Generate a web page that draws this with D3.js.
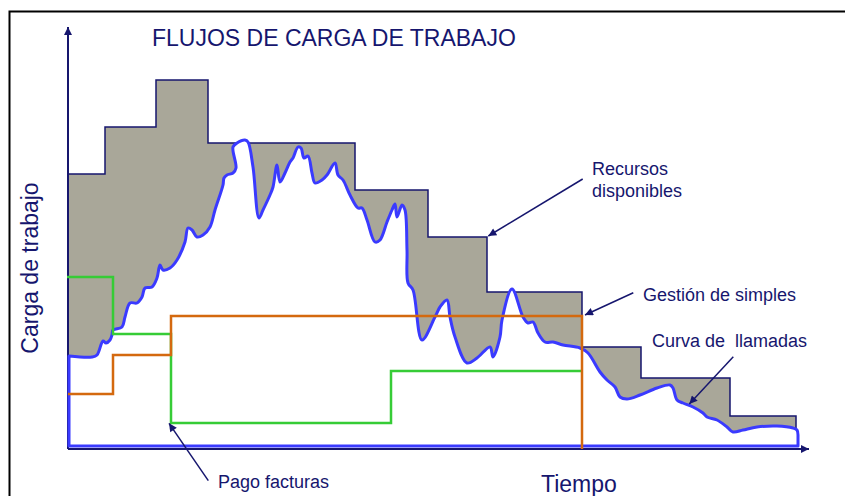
<!DOCTYPE html>
<html>
<head>
<meta charset="utf-8">
<script src="https://cdn.jsdelivr.net/npm/d3@7"></script>
<style>
  body { margin: 0; background: #fff; }
  svg text { font-family: Arial, "Liberation Sans", sans-serif; fill: #16166e; white-space: pre; }
</style>
</head>
<body>
<svg id="chart" width="845" height="496"></svg>
<script>
// Recursos disponibles (step levels, start time of each step)
const stepTime = [0, 37, 88, 140, 287, 360, 419, 514, 573, 662, 728];
const stepLoad = [275, 322, 369, 306, 259, 212, 157, 102, 71, 33, 20];

// Curva de llamadas
const callTime = [1, 24, 29, 35, 38, 42, 44, 45, 54, 57, 62, 69, 74, 77, 84, 89, 92, 95, 102, 109, 117, 120, 124, 129, 135, 142, 147, 155, 156, 159, 165, 168, 165, 169, 177, 180, 185, 191, 195, 202, 205, 209, 212, 217, 222, 225, 230, 233, 236, 240, 244, 247, 254, 259, 267, 270, 275, 282, 290, 294, 299, 307, 312, 319, 324, 327, 329, 334, 337, 339, 340, 345, 354, 367, 372, 379, 382, 387, 399, 409, 422, 425, 432, 434, 444, 455, 460, 465, 470, 477, 485, 495, 512, 520, 532, 539, 547, 552, 559, 572, 589, 602, 605, 609, 615, 625, 635, 639, 649, 659, 665, 675, 689, 709, 725, 729, 730];
const callLoad = [93, 92, 94, 108, 106, 109, 114, 119, 122, 132, 146, 146, 152, 161, 162, 171, 184, 179, 181, 189, 207, 221, 219, 212, 214, 222, 239, 264, 271, 274, 276, 281, 302, 306, 309, 307, 282, 231, 239, 254, 262, 284, 267, 276, 287, 291, 302, 301, 291, 293, 276, 266, 269, 274, 286, 274, 269, 254, 241, 241, 229, 207, 209, 227, 239, 245, 232, 244, 239, 199, 166, 159, 109, 132, 142, 149, 132, 112, 86, 91, 102, 92, 112, 129, 160, 132, 126, 127, 116, 107, 107, 104, 101, 96, 77, 69, 62, 52, 50, 54, 61, 64, 61, 49, 46, 42, 36, 32, 29, 22, 17, 19, 22, 23, 21, 19, 14];
const callBase = 3;

// Gestión de simples
const gestionTime = [0, 45, 103, 514];
const gestionLoad = [55, 94, 133, 0];

// Pago facturas
const pagoTime = [-1, 45, 103, 323, 514];
const pagoLoad = [172, 115, 26, 78, 78];

const navy = "#16166e";
const svg = d3.select("#chart");

const x = d3.scaleLinear().domain([0, 740]).range([68, 808]);
const y = d3.scaleLinear().domain([0, 420]).range([449, 29]);

// outer frame
svg.append("rect")
  .attr("x", 9.5).attr("y", 11.5)
  .attr("width", 850).attr("height", 520)
  .attr("fill", "none").attr("stroke", "#000").attr("stroke-width", 2);

const defs = svg.append("defs");
defs.append("marker")
  .attr("id", "arrow")
  .attr("viewBox", "0 0 10 10")
  .attr("refX", 10).attr("refY", 5)
  .attr("markerWidth", 10).attr("markerHeight", 8)
  .attr("markerUnits", "userSpaceOnUse")
  .attr("orient", "auto")
  .append("path").attr("d", "M0,0L10,5L0,10Z").attr("fill", navy);

const zip = (ts, vs) => ts.map((t, i) => [t, vs[i]]);

// gray area under resources
const steps = zip(stepTime, stepLoad);
svg.append("path")
  .datum(steps)
  .attr("d", d3.area().curve(d3.curveStepAfter)
    .x((d) => x(d[0])).y0(y(callBase)).y1((d) => y(d[1])))
  .attr("fill", "#a9a799");

svg.append("path")
  .datum(steps)
  .attr("d", d3.line().curve(d3.curveStepAfter)
    .x((d) => x(d[0])).y((d) => y(d[1])))
  .attr("fill", "none").attr("stroke", navy).attr("stroke-width", 1.5);

// call curve: smooth top, straight sides and base
const calls = zip(callTime, callLoad);
const first = calls[0];
const last = calls[calls.length - 1];
const callTop = d3.line().curve(d3.curveCatmullRom.alpha(0.5))
  .x((d) => x(d[0])).y((d) => y(d[1]))(calls);
const callPath = `M${x(first[0])},${y(callBase)}L` + callTop.slice(1) +
  `L${x(last[0])},${y(callBase)}Z`;
svg.append("path")
  .attr("d", callPath)
  .attr("fill", "#fff");

// axes
const xAxis = svg.append("g")
  .attr("transform", `translate(0,${y(0)})`)
  .call(d3.axisBottom(x).tickValues([]).tickSizeOuter(0));
const yAxis = svg.append("g")
  .attr("transform", `translate(${x(0)},0)`)
  .call(d3.axisLeft(y).tickValues([]).tickSizeOuter(0));
[xAxis, yAxis].forEach((a) => {
  a.select(".domain")
    .attr("stroke", navy).attr("stroke-width", 2)
    .attr("marker-end", "url(#arrow)");
});
xAxis.select(".domain").attr("d", `M${x(0)},0H${x(741)}`);
yAxis.select(".domain").attr("d", `M0,${y(0)}V${y(422)}`);

svg.append("path")
  .attr("d", callPath)
  .attr("fill", "none").attr("stroke", "#3a3aff")
  .attr("stroke-width", 3).attr("stroke-linejoin", "round");

// green and orange flows
svg.append("path")
  .datum(zip(pagoTime, pagoLoad))
  .attr("d", d3.line().curve(d3.curveStepAfter)
    .x((d) => x(d[0])).y((d) => y(d[1])))
  .attr("fill", "none").attr("stroke", "#36cc36").attr("stroke-width", 2.5);

svg.append("path")
  .datum(zip(gestionTime, gestionLoad))
  .attr("d", d3.line().curve(d3.curveStepAfter)
    .x((d) => x(d[0])).y((d) => y(d[1])))
  .attr("fill", "none").attr("stroke", "#d4690f").attr("stroke-width", 2.5);

// annotation arrows (data units)
const arrows = [
  [[514.7, 270], [420.3, 213]],
  [[565.3, 156.3], [517, 134]],
  [[665.3, 92.3], [621.3, 45]],
  [[140.3, -31.7], [101, 25.7]],
];
svg.selectAll(".note-arrow")
  .data(arrows)
  .enter()
  .append("line")
  .attr("class", "note-arrow")
  .attr("x1", (d) => x(d[0][0])).attr("y1", (d) => y(d[0][1]))
  .attr("x2", (d) => x(d[1][0])).attr("y2", (d) => y(d[1][1]))
  .attr("stroke", navy).attr("stroke-width", 1.5)
  .attr("marker-end", "url(#arrow)");

// texts
svg.append("text").attr("x", 152).attr("y", 46)
  .attr("font-size", 23).text("FLUJOS DE CARGA DE TRABAJO");

const labels = [
  { text: "Recursos", x: 592, y: 175 },
  { text: "disponibles", x: 592, y: 197 },
  { text: "Gestión de simples", x: 643, y: 301 },
  { text: "Curva de  llamadas", x: 652, y: 347 },
  { text: "Pago facturas", x: 218, y: 488 },
];
svg.selectAll(".label")
  .data(labels)
  .enter()
  .append("text")
  .attr("class", "label")
  .attr("x", (d) => d.x).attr("y", (d) => d.y)
  .attr("font-size", 18)
  .text((d) => d.text);

svg.append("text").attr("x", 541).attr("y", 492)
  .attr("font-size", 23).text("Tiempo");

svg.append("text")
  .attr("transform", "translate(38,268) rotate(-90)")
  .attr("text-anchor", "middle")
  .attr("font-size", 23).text("Carga de trabajo");
</script>
</body>
</html>
